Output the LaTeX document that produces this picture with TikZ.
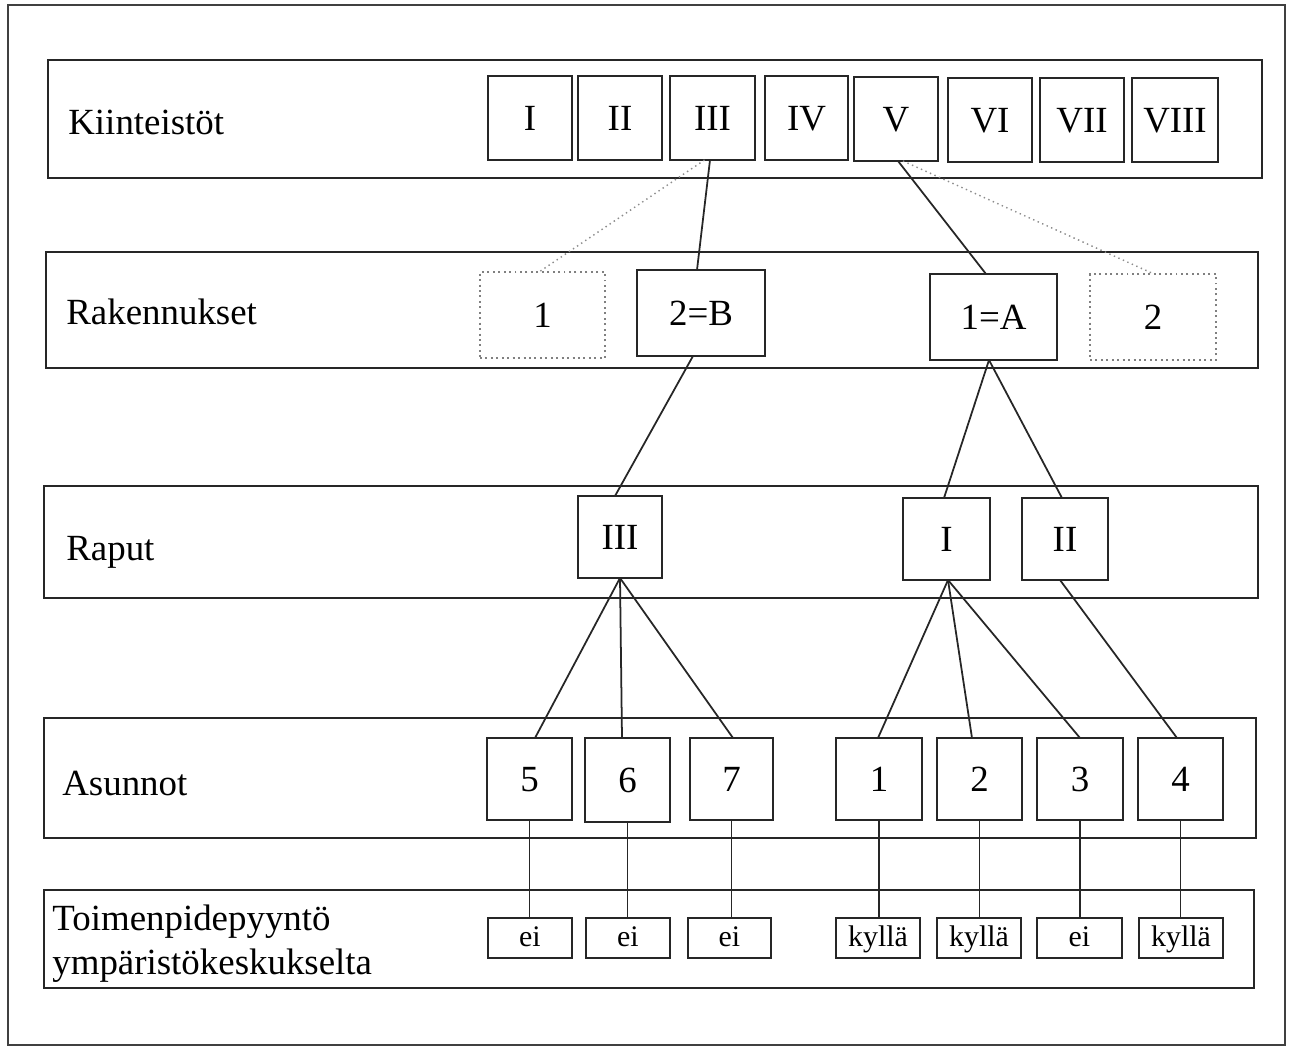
\documentclass[tikz,border=0pt]{standalone}
\usepackage{fontspec}
\setmainfont{Liberation Serif}
\usetikzlibrary{calc}
\newcommand\pbx[7][bx]{\node[#1, minimum width={(#5-#3)*0.02cm}, minimum height={(#6-#4)*0.02cm}] (#2) at ({(#3+#5)/2},{(#4+#6)/2}) {#7};}
\begin{document}
\begin{tikzpicture}[x=0.02cm,y=-0.02cm,
  band/.style={draw=black!85, line width=1.3pt, inner sep=0pt, outer sep=0pt},
  frm/.style={draw=black!75, line width=1.1pt, inner sep=0pt, outer sep=0pt},
  bx/.style={draw=black!85, line width=1.1pt, inner sep=0pt, outer sep=0pt, font=\fontsize{21}{25}\selectfont, text height=13.9pt, text depth=0pt},
  dbx/.style={bx, draw=black!50, dotted, line width=1pt},
  sbx/.style={bx, font=\fontsize{17}{20}\selectfont, text height=11.6pt, text depth=1.5pt},
  lbl/.style={anchor=base west, inner sep=0pt, font=\fontsize{21}{25}\selectfont},
  conn/.style={line width=1pt, draw=black!85},
  dconn/.style={line width=0.8pt, draw=black!45, dotted}]
\useasboundingbox[fill=white] (0,0) rectangle (1292,1052);
% outer frame
\pbx[frm]{frame}{8}{5}{1285}{1045}{}
% bands
\pbx[band]{bk}{48}{60}{1262}{178}{}
\pbx[band]{br}{46}{252}{1258}{368}{}
\pbx[band]{bp}{44}{486}{1258}{598}{}
\pbx[band]{ba}{44}{718}{1256}{838}{}
\pbx[band]{bt}{44}{890}{1254}{988}{}
% labels
\node[lbl] (lk) at (68,134) {Kiinteistöt};
\node[lbl] (lr) at (66,324) {Rakennukset};
\node[lbl] (lp) at (66,560) {Raput};
\node[lbl] (la) at (62,795) {Asunnot};
\node[lbl] (lt1) at (52,930) {Toimenpidepyyntö};
\node[lbl] (lt2) at (52,974) {ympäristökeskukselta};
% Kiinteistot
\pbx{t1}{488}{76}{572}{160}{I}
\pbx{t2}{578}{76}{662}{160}{II}
\pbx{t3}{670}{76}{755}{160}{III}
\pbx{t4}{765}{76}{848}{160}{IV}
\pbx{t5}{854}{77}{938}{161}{V}
\pbx{t6}{948}{78}{1032}{162}{VI}
\pbx{t7}{1040}{78}{1124}{162}{VII}
\pbx{t8}{1132}{78}{1218}{162}{VIII}
% Rakennukset
\pbx[dbx]{r1}{480}{272}{605}{358}{1}
\pbx{r2}{637}{270}{765}{356}{2=B}
\pbx{rA}{930}{274}{1057}{360}{1=A}
\pbx[dbx]{r2d}{1090}{274}{1216}{360}{2}
% Raput
\pbx{p3}{578}{496}{662}{578}{III}
\pbx{pI}{903}{498}{990}{580}{I}
\pbx{pII}{1022}{498}{1108}{580}{II}
% Asunnot
\pbx{a5}{487}{738}{572}{820}{5}
\pbx{a6}{585}{738}{670}{822}{6}
\pbx{a7}{690}{738}{773}{820}{7}
\pbx{a1}{836}{738}{922}{820}{1}
\pbx{a2}{937}{738}{1022}{820}{2}
\pbx{a3}{1037}{738}{1123}{820}{3}
\pbx{a4}{1138}{738}{1223}{820}{4}
% Toimenpide
\pbx[sbx]{q5}{488}{918}{572}{958}{ei}
\pbx[sbx]{q6}{586}{918}{670}{958}{ei}
\pbx[sbx]{q7}{688}{918}{771}{958}{ei}
\pbx[sbx]{q1}{836}{918}{920}{958}{kyllä}
\pbx[sbx]{q2}{937}{918}{1021}{958}{kyllä}
\pbx[sbx]{q3}{1037}{918}{1122}{958}{ei}
\pbx[sbx]{q4}{1139}{918}{1223}{958}{kyllä}
% connectors top -> buildings
\draw[conn] ($(t3.south)+(-2.5,0)$) -- ($(r2.north)+(-4,0)$);
\draw[dconn] ($(t3.south)+(-8,0)$) -- ($(r1.north)+(-3.5,0)$);
\draw[conn] ($(t5.south)+(2,0)$) -- ($(rA.north)+(-7.5,0)$);
\draw[dconn] ($(t5.south)+(7,0)$) -- ($(r2d.north)+(1,0)$);
% buildings -> stairs
\draw[conn] ($(r2.south)+(-8,0)$) -- ($(p3.north)+(-5,0)$);
\draw[conn] ($(rA.south)+(-4.5,0)$) -- ($(pI.north)+(-2.5,0)$);
\draw[conn] ($(rA.south)+(-4.5,0)$) -- ($(pII.north)+(-3,0)$);
% stairs -> apartments
\draw[conn] (p3.south) -- ($(a5.north)+(5.5,0)$);
\draw[conn] (p3.south) -- ($(a6.north)+(-5.5,0)$);
\draw[conn] (p3.south) -- ($(a7.north)+(1.5,0)$);
\draw[conn] ($(pI.south)+(1.5,0)$) -- ($(a1.north)+(-1,0)$);
\draw[conn] ($(pI.south)+(1.5,0)$) -- ($(a2.north)+(-7.5,0)$);
\draw[conn] ($(pI.south)+(1.5,0)$) -- (a3.north);
\draw[conn] ($(pII.south)+(-5,0)$) -- ($(a4.north)+(-3.5,0)$);
% apartments -> requests
\foreach \a/\q in {a5/q5,a6/q6,a7/q7,a1/q1,a2/q2,a3/q3,a4/q4}
  \draw[conn] (\a.south) -- (\a.south |- \q.north);
\end{tikzpicture}
\end{document}
